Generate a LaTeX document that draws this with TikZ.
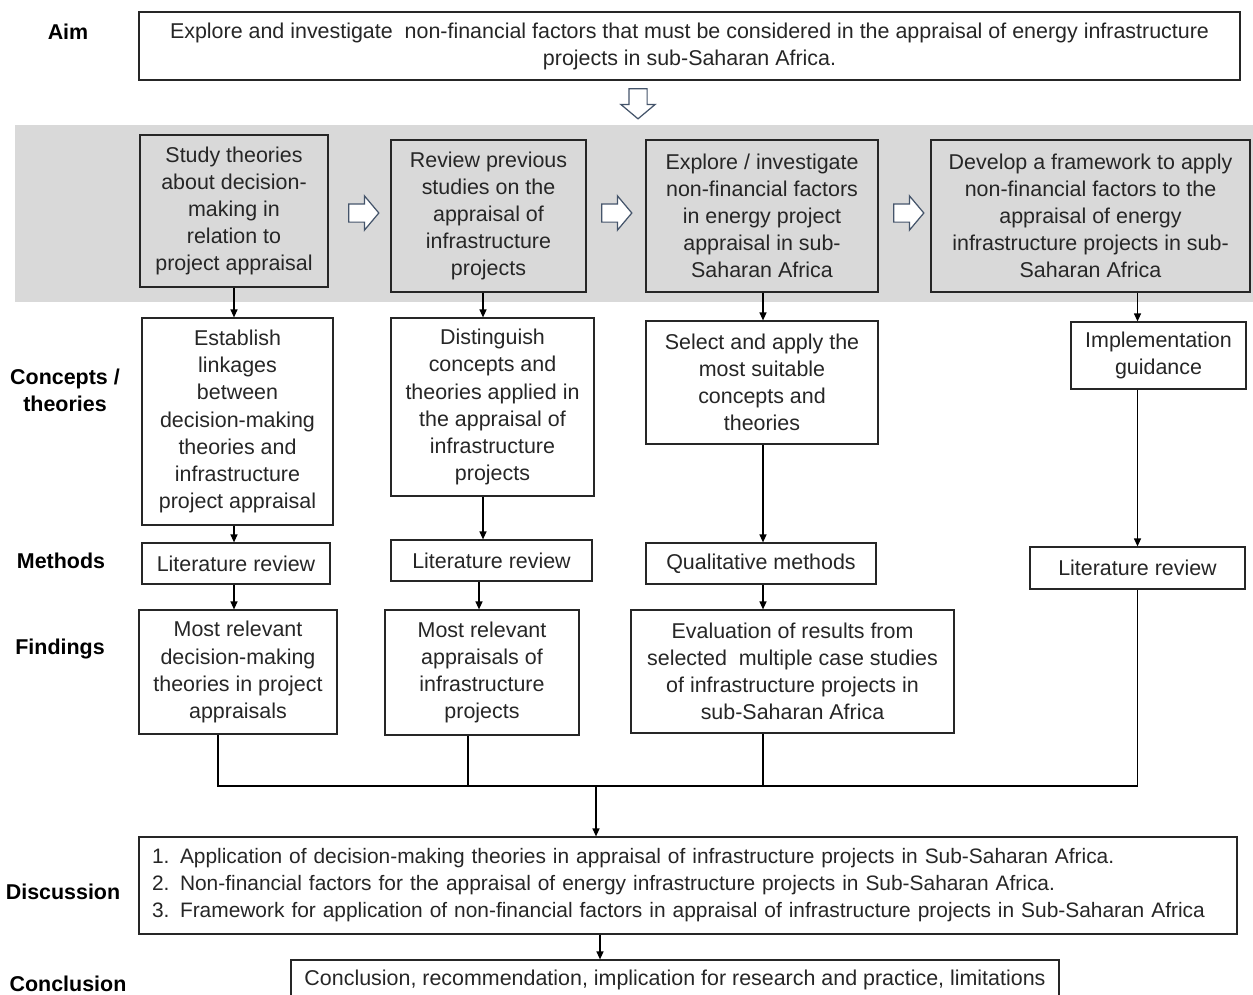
\documentclass[tikz,border=0pt]{standalone}
\usepackage{fontspec}
\setmainfont{Liberation Sans}
\usetikzlibrary{shapes.arrows, arrows.meta, positioning, calc}
\definecolor{txt}{RGB}{38,38,38}
\definecolor{band}{RGB}{217,217,217}
\definecolor{slate}{RGB}{68,84,106}
\tikzset{
  box/.style   ={rectangle, draw=black!85, line width=0.7pt, fill=white, align=center,
                 text=txt, font=\fontsize{12.2}{15.4}\selectfont, inner sep=0pt},
  boxg/.style  ={box, fill=band},
  lbl/.style   ={font=\bfseries\fontsize{12.2}{15.4}\selectfont, align=center, text=black},
  ar/.style    ={-{Triangle[length=1.6mm,width=1.4mm]}, draw=black, line width=0.7pt},
  ln/.style    ={draw=black, line width=0.7pt},
  hollow/.style={single arrow, draw=slate, fill=white, line width=0.7pt, minimum height=6mm,
                 single arrow head extend=1.6mm, single arrow tip angle=100, inner sep=1.7mm},
}
\begin{document}
\begin{tikzpicture}[x=0.02cm, y=-0.02cm]
\useasboundingbox (0,0) rectangle (1253,994);
\clip (0,0) rectangle (1253,994);
% row labels
\node[lbl] (laim) at (68,32) {Aim};
\node[lbl] (lobj) at (73,206) {Objectives};
\node[lbl] (lcon) at (65,390) {Concepts /\\theories};
\node[lbl] (lmet) at (61,561) {Methods};
\node[lbl] (lfin) at (60,649) {Findings};
\node[lbl] (ldis) at (63,892) {Discussion};
\node[lbl] (lcnc) at (68,984) {Conclusion};
% aim
\node[box, minimum width=22.02cm, minimum height=1.36cm] (aim) at (689.5,46)
  {Explore and investigate\ \ non-financial factors that must be considered in the appraisal of energy infrastructure\\projects in sub-Saharan Africa.};
\node[hollow, shape border rotate=270] (down) at (638,100) {};
% objectives band
\fill[band] (15,125) rectangle (1253,302);
\node[boxg, minimum width=3.76cm, minimum height=3.04cm] (o1) at (234,211)
  {Study theories\\about decision-\\making in\\relation to\\project appraisal};
\node[boxg, minimum width=3.90cm, minimum height=3.04cm] (o2) at (488.5,216)
  {Review previous\\studies on the\\appraisal of\\infrastructure\\projects};
\node[boxg, minimum width=4.64cm, minimum height=3.04cm] (o3) at (762,216)
  {Explore / investigate\\non-financial factors\\in energy project\\appraisal in sub-\\Saharan Africa};
\node[boxg, minimum width=6.38cm, minimum height=3.04cm] (o4) at (1090.5,216)
  {Develop a framework to apply\\non-financial factors to the\\appraisal of energy\\infrastructure projects in sub-\\Saharan Africa};
\node[hollow] (r1) at (360,213) {};
\node[hollow] (r2) at (613,213) {};
\node[hollow] (r3) at (905,213) {};
% concepts / theories
\node[box, minimum width=3.82cm, minimum height=4.14cm] (c1) at (237.5,421.5)
  {Establish\\linkages\\between\\decision-making\\theories and\\infrastructure\\project appraisal};
\node[box, minimum width=4.06cm, minimum height=3.56cm] (c2) at (492.5,407)
  {Distinguish\\concepts and\\theories applied in\\the appraisal of\\infrastructure\\projects};
\node[box, minimum width=4.64cm, minimum height=2.46cm] (c3) at (762,382.5)
  {Select and apply the\\most suitable\\concepts and\\theories};
\node[box, minimum width=3.50cm, minimum height=1.34cm] (c4) at (1158.5,355.5)
  {Implementation\\guidance};
% methods
\node[box, minimum width=3.76cm, minimum height=0.82cm] (m1) at (236,563.5) {Literature review};
\node[box, minimum width=4.02cm, minimum height=0.82cm] (m2) at (491.5,560.5) {Literature review};
\node[box, minimum width=4.60cm, minimum height=0.82cm] (m3) at (761,563.5) {Qualitative methods};
\node[box, minimum width=4.30cm, minimum height=0.84cm] (m4) at (1137.5,568) {Literature review};
% findings
\node[box, minimum width=3.96cm, minimum height=2.48cm] (f1) at (238,672)
  {Most relevant\\decision-making\\theories in project\\appraisals};
\node[box, minimum width=3.88cm, minimum height=2.50cm] (f2) at (482,672.5)
  {Most relevant\\appraisals of\\infrastructure\\projects};
\node[box, minimum width=6.46cm, minimum height=2.46cm] (f3) at (792.5,671.5)
  {Evaluation of results from\\selected\ \ multiple case studies\\of infrastructure projects in\\sub-Saharan Africa};
% discussion and conclusion
\node[box, align=left, text width=21.44cm, minimum width=21.96cm, minimum height=1.94cm,
      font=\fontsize{11.9}{15.4}\selectfont] (disc) at (688,885.5)
  {1. Application of decision-making theories in appraisal of infrastructure projects in Sub-Saharan Africa.\\
   2. Non-financial factors for the appraisal of energy infrastructure projects in Sub-Saharan Africa.\\
   3. Framework for application of non-financial factors in appraisal of infrastructure projects in Sub-Saharan Africa};
\node[box, minimum width=15.36cm, minimum height=0.8cm] (concl) at (675,980)
  {Conclusion, recommendation, implication for research and practice, limitations};
\coordinate (j) at (596,786);
% connectors
\draw[ar] (o1.south) -- (o1.south |- c1.north);
\draw[ar] (c1.south -| o1.south) -- (o1.south |- m1.north);
\draw[ar] (m1.south -| o1.south) -- (o1.south |- f1.north);
\draw[ar] ($(o2.south)+(-5.5,0)$) -- ($(o2.south |- c2.north)+(-5.5,0)$);
\draw[ar] ($(o2.south |- c2.south)+(-5.5,0)$) -- ($(o2.south |- m2.north)+(-5.5,0)$);
\draw[ar] ($(m2.south)+(-12.5,0)$) -- ($(m2.south |- f2.north)+(-12.5,0)$);
\draw[ar] ($(o3.south)+(1,0)$) -- ($(o3.south |- c3.north)+(1,0)$);
\draw[ar] ($(c3.south)+(1,0)$) -- ($(o3.south |- m3.north)+(1,0)$);
\draw[ar] ($(m3.south)+(2,0)$) -- ($(m3.south |- f3.north)+(2,0)$);
\draw[ar] (m4.north |- o4.south) -- (m4.north |- c4.north);
\draw[ar] (m4.north |- c4.south) -- (m4.north);
\draw[ln] ($(f1.south)+(-20,0)$) |- (j) -| (m4.south);
\draw[ln] ($(f2.south)+(-14,0)$) |- (j);
\draw[ln] ($(f3.south)+(-29.5,0)$) |- (j);
\draw[ar] (j) -- (j |- disc.north);
\draw[ar] ($(disc.south)+(-88,0)$) -- ($(disc.south |- concl.north)+(-88,0)$);
\end{tikzpicture}
\end{document}
